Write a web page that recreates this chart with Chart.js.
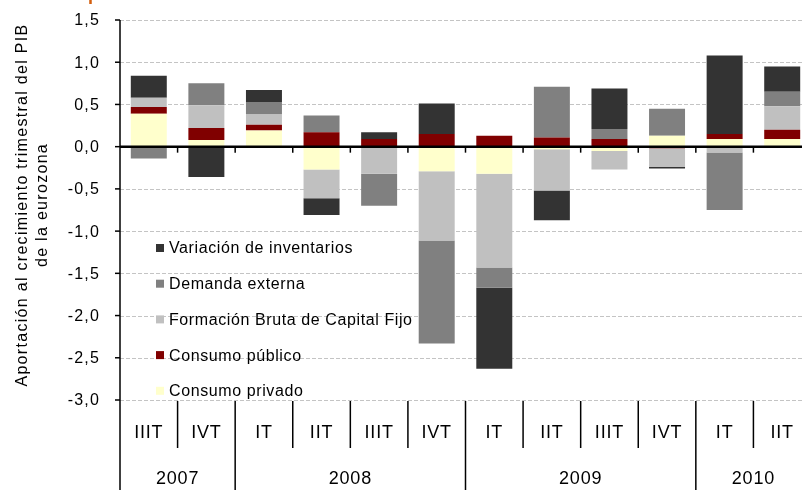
<!DOCTYPE html>
<html>
<head>
<meta charset="utf-8">
<script src="https://cdn.jsdelivr.net/npm/chart.js@4.4.1/dist/chart.umd.min.js"></script>
<style>
    html, body { margin: 0; padding: 0; background: #fff; overflow: hidden; }
    #wrap { position: relative; width: 820px; height: 490px; }
</style>
</head>
<body>
<div id="wrap"><canvas id="grafico"></canvas></div>
<script>
// Datos del gráfico
const trimestres = ["IIIT", "IVT", "IT", "IIT", "IIIT", "IVT", "IT", "IIT", "IIIT", "IVT", "IT", "IIT"];
const anios = ["2007", "2008", "2009", "2010"];
const trimestresPorAnio = [2, 4, 4, 2];

const consumoPrivado = [0.39, 0.08, 0.19, -0.27, 0.00, -0.29, -0.32, -0.03, -0.05, 0.13, 0.09, 0.09];
const consumoPublico = [0.08, 0.14, 0.07, 0.17, 0.09, 0.15, 0.13, 0.11, 0.09, -0.02, 0.06, 0.11];
const formacionBruta = [0.11, 0.27, 0.12, -0.34, -0.32, -0.82, -1.11, -0.49, -0.22, -0.22, -0.07, 0.28];
const demandaExterna = [-0.14, 0.26, 0.15, 0.20, -0.38, -1.22, -0.24, 0.60, 0.12, 0.32, -0.68, 0.17];
const variacionInventarios = [0.26, -0.36, 0.14, -0.20, 0.08, 0.36, -0.96, -0.35, 0.48, -0.02, 0.93, 0.30];

const FUENTE = '"Liberation Sans", Arial, sans-serif';

// Plugin para los elementos tipo Excel (rejilla, eje, tabla de categorías, leyenda)
const extrasPlugin = {
    id: "extras",
    beforeDatasetsDraw(chart) {
        const ctx = chart.ctx;
        const area = chart.chartArea;
        const y = chart.scales.y;
        ctx.save();
        ctx.strokeStyle = "#c4c4c4";
        ctx.lineWidth = 1;
        ctx.setLineDash([4, 2]);
        y.ticks.forEach(t => {
            if (t.value === 0) return;
            const py = Math.round(y.getPixelForValue(t.value)) + 0.5;
            ctx.beginPath();
            ctx.moveTo(area.left, py);
            ctx.lineTo(area.right, py);
            ctx.stroke();
        });
        ctx.restore();
    },
    afterDatasetsDraw(chart) {
        const ctx = chart.ctx;
        const area = chart.chartArea;
        const x = chart.scales.x;
        const y = chart.scales.y;
        const ancho = (area.right - area.left) / trimestres.length;
        const y0 = y.getPixelForValue(0);

        ctx.save();

        // Título (cortado en la parte superior)
        ctx.letterSpacing = "0.5px";
        ctx.fillStyle = "#d35f0f";
        ctx.font = "bold 18px " + FUENTE;
        ctx.textBaseline = "alphabetic";
        ctx.textAlign = "left";
        ctx.fillText("Descomposición del crecimiento del PIB", 15, -0.5);

        // Línea del cero
        ctx.strokeStyle = "#000";
        ctx.lineWidth = 2.5;
        ctx.beginPath();
        ctx.moveTo(area.left, y0);
        ctx.lineTo(area.right, y0);
        ctx.stroke();

        // Marcas bajo la línea del cero
        ctx.lineWidth = 1.5;
        for (let i = 1; i < trimestres.length; i++) {
            const xb = area.left + ancho * i;
            ctx.beginPath();
            ctx.moveTo(xb, y0);
            ctx.lineTo(xb, y0 + 6);
            ctx.stroke();
        }

        // Eje vertical con marcas y etiquetas
        ctx.lineWidth = 1.5;
        ctx.beginPath();
        ctx.moveTo(area.left, area.top);
        ctx.lineTo(area.left, 490);
        ctx.stroke();
        ctx.fillStyle = "#000";
        ctx.font = "16px " + FUENTE;
        ctx.letterSpacing = "1.2px";
        ctx.textAlign = "right";
        ctx.textBaseline = "middle";
        y.ticks.forEach(t => {
            const py = y.getPixelForValue(t.value);
            ctx.beginPath();
            ctx.moveTo(area.left - 5, py);
            ctx.lineTo(area.left, py);
            ctx.stroke();
            ctx.fillText(t.value.toFixed(1).replace(".", ","), 100, py + 1);
        });

        // Título del eje Y
        ctx.letterSpacing = "1.3px";
        ctx.textAlign = "center";
        ctx.save();
        ctx.translate(23, (area.top + area.bottom) / 2 - 5);
        ctx.rotate(-Math.PI / 2);
        ctx.fillText("Aportación al crecimiento trimestral del PIB", 0, 0);
        ctx.fillText("de la eurozona", 0, 20);
        ctx.restore();

        // Tabla de categorías
        ctx.font = "18px " + FUENTE;
        ctx.letterSpacing = "0.8px";
        trimestres.forEach((t, i) => {
            ctx.fillText(t, x.getPixelForValue(i), 433);
        });
        let inicio = 0;
        anios.forEach((a, k) => {
            const n = trimestresPorAnio[k];
            const xa = area.left + ancho * inicio;
            const xb = area.left + ancho * (inicio + n);
            ctx.fillText(a, (xa + xb) / 2, 479);
            ctx.lineWidth = 1.5;
            for (let j = 1; j < n; j++) {
                const xs = area.left + ancho * (inicio + j);
                ctx.beginPath();
                ctx.moveTo(xs, 401);
                ctx.lineTo(xs, 448);
                ctx.stroke();
            }
            if (k < anios.length - 1) {
                ctx.beginPath();
                ctx.moveTo(xb, 401);
                ctx.lineTo(xb, 490);
                ctx.stroke();
            }
            inicio += n;
        });

        // Leyenda (orden inverso)
        const ds = chart.data.datasets.slice().reverse();
        ctx.font = "16px " + FUENTE;
        ctx.letterSpacing = "0.6px";
        ctx.textAlign = "left";
        ds.forEach((d, i) => {
            const cy = 248 + i * 35.7;
            ctx.fillStyle = d.backgroundColor;
            ctx.fillRect(156, cy - 4, 8, 8);
            ctx.fillStyle = "#000";
            ctx.fillText(d.label, 169, cy + 1);
        });

        ctx.restore();
    }
};

const ctx = document.getElementById("grafico").getContext("2d");
const grafico = new Chart(ctx, {
    type: "bar",
    data: {
        labels: trimestres,
        datasets: [
            { label: "Consumo privado", data: consumoPrivado, backgroundColor: "#ffffcc" },
            { label: "Consumo público", data: consumoPublico, backgroundColor: "#800000" },
            { label: "Formación Bruta de Capital Fijo", data: formacionBruta, backgroundColor: "#c0c0c0" },
            { label: "Demanda externa", data: demandaExterna, backgroundColor: "#808080" },
            { label: "Variación de inventarios", data: variacionInventarios, backgroundColor: "#333333" }
        ]
    },
    options: {
        responsive: true,
        maintainAspectRatio: false,
        animation: false,
        layout: { padding: { top: 20, bottom: 90, right: 9, left: 0 } },
        datasets: {
            bar: { categoryPercentage: 1, barPercentage: 0.625, borderWidth: 0 }
        },
        plugins: {
            legend: { display: false },
            tooltip: { enabled: false }
        },
        scales: {
            x: {
                stacked: true,
                display: false
            },
            y: {
                stacked: true,
                min: -3,
                max: 1.5,
                afterFit(scale) { scale.width = 120; },
                ticks: { display: false, stepSize: 0.5 },
                grid: { display: false, drawTicks: false },
                border: { display: false }
            }
        }
    },
    plugins: [extrasPlugin]
});
</script>
</body>
</html>
